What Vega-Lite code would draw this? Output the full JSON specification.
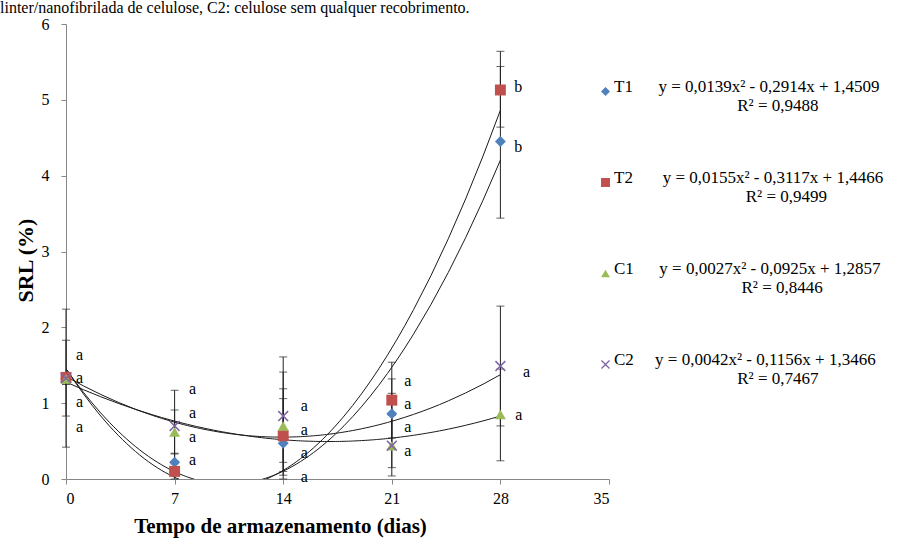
{
  "$schema": "https://vega.github.io/schema/vega-lite/v6.json",
  "width": 543,
  "height": 455,
  "autosize": {"type": "none"},
  "padding": {"left": 66, "top": 24, "right": 310, "bottom": 68},
  "background": "white",
  "title": {
    "text": "linter/nanofibrilada de celulose, C2: celulose sem qualquer recobrimento.",
    "anchor": "start",
    "frame": "group",
    "font": "Liberation Serif",
    "fontSize": 16,
    "fontWeight": "normal",
    "color": "#000000",
    "offset": 0,
    "dx": -66
  },
  "config": {
    "font": "Liberation Serif",
    "view": {"stroke": null},
    "axis": {
      "grid": false,
      "domainColor": "#868686",
      "tickColor": "#868686",
      "tickSize": 5,
      "labelFont": "Liberation Serif",
      "labelFontSize": 16,
      "labelColor": "#000000",
      "titleFont": "Liberation Serif",
      "titleColor": "#000000",
      "titleFontWeight": "bold"
    },
    "legend": {"labelFont": "Liberation Serif", "titleFont": "Liberation Serif"}
  },
  "datasets": {
    "means": [
      {"dias": 0, "serie": "T1", "srl": 1.33, "low": 0.83, "high": 1.83},
      {"dias": 7, "serie": "T1", "srl": 0.22, "low": 0.1, "high": 0.34},
      {"dias": 14, "serie": "T1", "srl": 0.47, "low": 0.0, "high": 1.06},
      {"dias": 21, "serie": "T1", "srl": 0.86, "low": 0.4, "high": 1.32},
      {"dias": 28, "serie": "T1", "srl": 4.45, "low": 3.44, "high": 5.44},
      {"dias": 0, "serie": "T2", "srl": 1.34, "low": 0.42, "high": 2.24},
      {"dias": 7, "serie": "T2", "srl": 0.1, "low": 0.0, "high": 0.2},
      {"dias": 14, "serie": "T2", "srl": 0.57, "low": 0.1, "high": 1.19},
      {"dias": 21, "serie": "T2", "srl": 1.04, "low": 0.54, "high": 1.54},
      {"dias": 28, "serie": "T2", "srl": 5.13, "low": 4.64, "high": 5.64},
      {"dias": 0, "serie": "C1", "srl": 1.32, "low": 1.25, "high": 1.4},
      {"dias": 7, "serie": "C1", "srl": 0.62, "low": 0.33, "high": 0.91},
      {"dias": 14, "serie": "C1", "srl": 0.7, "low": 0.22, "high": 1.41},
      {"dias": 21, "serie": "C1", "srl": 0.44, "low": 0.04, "high": 0.84},
      {"dias": 28, "serie": "C1", "srl": 0.85, "low": 0.24, "high": 1.45},
      {"dias": 0, "serie": "C2", "srl": 1.33, "low": 1.25, "high": 1.4},
      {"dias": 7, "serie": "C2", "srl": 0.7, "low": 0.23, "high": 1.17},
      {"dias": 14, "serie": "C2", "srl": 0.83, "low": 0.05, "high": 1.61},
      {"dias": 21, "serie": "C2", "srl": 0.44, "low": 0.15, "high": 1.13},
      {"dias": 28, "serie": "C2", "srl": 1.49, "low": 0.7, "high": 2.28}
    ],
    "letters": [
      {"dias": 0.64, "srl": 1.64, "letra": "a"},
      {"dias": 0.64, "srl": 1.33, "letra": "a"},
      {"dias": 0.64, "srl": 1.02, "letra": "a"},
      {"dias": 0.64, "srl": 0.69, "letra": "a"},
      {"dias": 7.93, "srl": 1.19, "letra": "a"},
      {"dias": 7.93, "srl": 0.87, "letra": "a"},
      {"dias": 7.93, "srl": 0.55, "letra": "a"},
      {"dias": 7.93, "srl": 0.25, "letra": "a"},
      {"dias": 15.13, "srl": 0.96, "letra": "a"},
      {"dias": 15.13, "srl": 0.65, "letra": "a"},
      {"dias": 15.13, "srl": 0.34, "letra": "a"},
      {"dias": 15.13, "srl": 0.03, "letra": "a"},
      {"dias": 21.8, "srl": 1.29, "letra": "a"},
      {"dias": 21.8, "srl": 0.99, "letra": "a"},
      {"dias": 21.8, "srl": 0.69, "letra": "a"},
      {"dias": 21.8, "srl": 0.37, "letra": "a"},
      {"dias": 28.9, "srl": 5.17, "letra": "b"},
      {"dias": 28.9, "srl": 4.38, "letra": "b"},
      {"dias": 29.46, "srl": 1.41, "letra": "a"},
      {"dias": 28.95, "srl": 0.84, "letra": "a"}
    ]
  },
  "encoding": {
    "x": {
      "field": "dias",
      "type": "quantitative",
      "scale": {"domain": [0, 35], "nice": false, "zero": false},
      "axis": {
        "values": [0, 7, 14, 21, 28, 35],
        "title": "Tempo de armazenamento (dias)",
        "titleFontSize": 21,
        "titleX": 214,
        "titleY": 53,
        "titleAlign": "center",
        "titleBaseline": "alphabetic",
        "labelPadding": 6
      }
    },
    "y": {
      "field": "srl",
      "type": "quantitative",
      "scale": {"domain": [0, 6], "nice": false},
      "axis": {
        "values": [0, 1, 2, 3, 4, 5, 6],
        "title": "SRL (%)",
        "titleFontSize": 22,
        "titleX": -41,
        "titleY": 236,
        "titleAlign": "center",
        "titleBaseline": "middle",
        "titleAngle": -90,
        "labelPadding": 12
      }
    }
  },
  "layer": [
    {
      "data": {"name": "means"},
      "transform": [
        {"regression": "srl", "on": "dias", "groupby": ["serie"], "method": "poly", "order": 2, "extent": [0, 28]}
      ],
      "mark": {"type": "line", "color": "#1a1a1a", "strokeWidth": 1, "clip": true},
      "encoding": {"detail": {"field": "serie"}}
    },
    {
      "data": {"name": "means"},
      "mark": {"type": "rule", "color": "#222222", "strokeWidth": 1},
      "encoding": {
        "y": {"field": "low", "type": "quantitative"},
        "y2": {"field": "high"}
      }
    },
    {
      "data": {"name": "means"},
      "mark": {"type": "tick", "orient": "horizontal", "color": "#222222", "size": 8, "thickness": 1},
      "encoding": {"y": {"field": "low", "type": "quantitative"}}
    },
    {
      "data": {"name": "means"},
      "mark": {"type": "tick", "orient": "horizontal", "color": "#222222", "size": 8, "thickness": 1},
      "encoding": {"y": {"field": "high", "type": "quantitative"}}
    },
    {
      "data": {"name": "means"},
      "mark": {"type": "point", "filled": true, "opacity": 1, "size": 120},
      "encoding": {
        "color": {
          "field": "serie",
          "type": "nominal",
          "sort": ["T1", "T2", "C1", "C2"],
          "scale": {"domain": ["T1", "T2", "C1", "C2"], "range": ["#4F81BD", "#C0504D", "#9BBB59", "#8064A2"]},
          "legend": {
            "orient": "none",
            "legendX": 531,
            "legendY": 59,
            "title": null,
            "padding": 0,
            "labelFont": "Liberation Serif",
            "labelFontSize": 17,
            "labelColor": "#000000",
            "labelLimit": 400,
            "labelOffset": 0,
            "labelBaseline": "alphabetic",
            "symbolSize": 80,
            "rowPadding": 54,
            "labelExpr": "datum.label == 'T1' ? ['T1\u00a0\u00a0\u00a0\u00a0\u00a0\u00a0y = 0,0139x² - 0,2914x + 1,4509', '\u200b\u00a0\u00a0\u00a0\u00a0\u00a0\u00a0\u00a0\u00a0\u00a0\u00a0\u00a0\u00a0\u00a0\u00a0\u00a0\u00a0\u00a0\u00a0\u00a0\u00a0\u00a0\u00a0\u00a0\u00a0\u00a0\u00a0\u00a0\u00a0\u00a0R² = 0,9488'] : datum.label == 'T2' ? ['T2\u00a0\u00a0\u00a0\u00a0\u00a0\u00a0\u00a0y = 0,0155x² - 0,3117x + 1,4466', '\u200b\u00a0\u00a0\u00a0\u00a0\u00a0\u00a0\u00a0\u00a0\u00a0\u00a0\u00a0\u00a0\u00a0\u00a0\u00a0\u00a0\u00a0\u00a0\u00a0\u00a0\u00a0\u00a0\u00a0\u00a0\u00a0\u00a0\u00a0\u00a0\u00a0\u00a0\u00a0R² = 0,9499'] : datum.label == 'C1' ? ['C1\u00a0\u00a0\u00a0\u00a0\u00a0\u00a0y = 0,0027x² - 0,0925x + 1,2857', '\u200b\u00a0\u00a0\u00a0\u00a0\u00a0\u00a0\u00a0\u00a0\u00a0\u00a0\u00a0\u00a0\u00a0\u00a0\u00a0\u00a0\u00a0\u00a0\u00a0\u00a0\u00a0\u00a0\u00a0\u00a0\u00a0\u00a0\u00a0\u00a0\u00a0\u00a0R² = 0,8446'] : ['C2\u00a0\u00a0\u00a0\u00a0\u00a0y = 0,0042x² - 0,1156x + 1,3466', '\u200b\u00a0\u00a0\u00a0\u00a0\u00a0\u00a0\u00a0\u00a0\u00a0\u00a0\u00a0\u00a0\u00a0\u00a0\u00a0\u00a0\u00a0\u00a0\u00a0\u00a0\u00a0\u00a0\u00a0\u00a0\u00a0\u00a0\u00a0\u00a0\u00a0R² = 0,7467']"
          }
        },
        "shape": {
          "field": "serie",
          "type": "nominal",
          "sort": ["T1", "T2", "C1", "C2"],
          "scale": {
            "domain": ["T1", "T2", "C1", "C2"],
            "range": ["diamond", "square", "triangle-up", "M-1,-0.8L-0.8,-1L0,-0.2L0.8,-1L1,-0.8L0.2,0L1,0.8L0.8,1L0,0.2L-0.8,1L-1,0.8L-0.2,0Z"]
          }
        }
      }
    },
    {
      "data": {"name": "letters"},
      "mark": {"type": "text", "align": "left", "baseline": "middle", "font": "Liberation Serif", "fontSize": 16, "color": "#000000"},
      "encoding": {"text": {"field": "letra"}}
    }
  ]
}
